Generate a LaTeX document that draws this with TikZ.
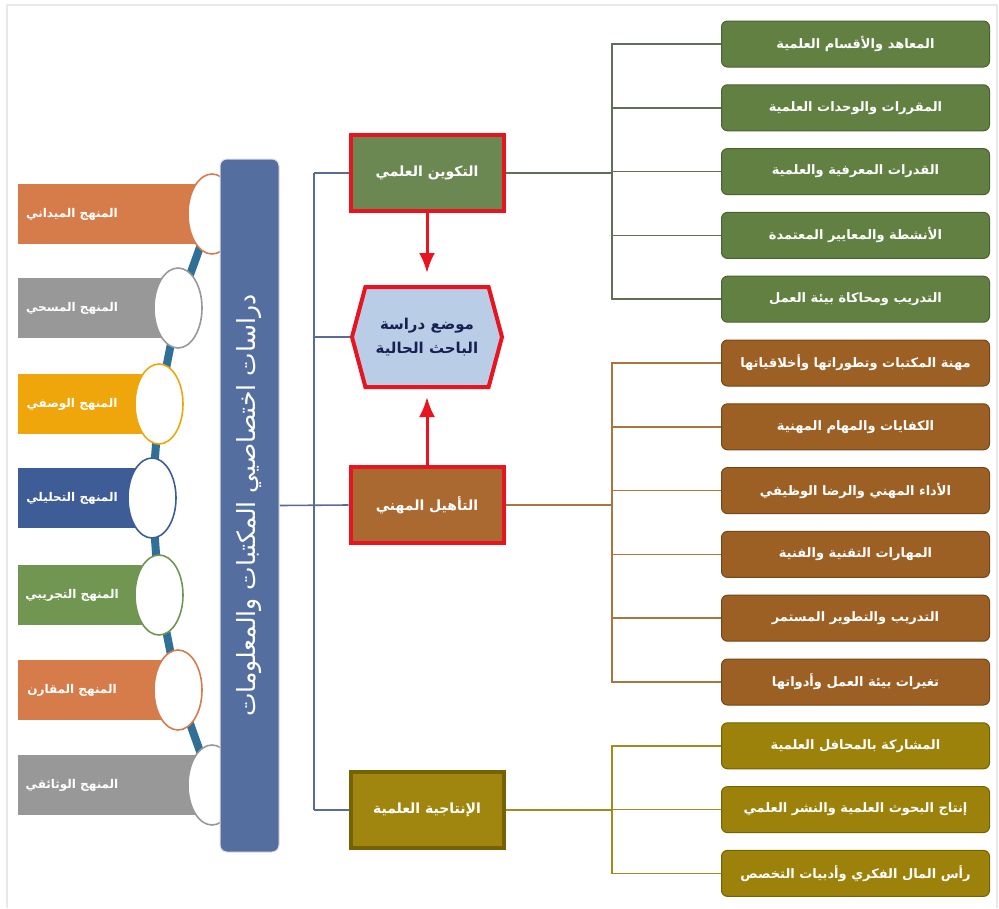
\documentclass[tikz,border=0pt]{standalone}
\usepackage{fontspec}
\usepackage{tikz}
\usetikzlibrary{positioning, arrows.meta, calc, shapes.geometric, shapes.symbols, backgrounds}
\TeXXeTstate=1
\newfontfamily\arabicfont[Script=Arabic]{DejaVu Sans}
\newcommand{\artxt}[1]{{\arabicfont\beginR #1\endR}}
\definecolor{barBlue}{RGB}{84,110,160}
\definecolor{chainBlue}{RGB}{48,112,150}
\definecolor{mOrange}{RGB}{214,124,74}
\definecolor{mGrey}{RGB}{152,152,152}
\definecolor{mGold}{RGB}{238,166,10}
\definecolor{mNavy}{RGB}{62,92,150}
\definecolor{mGreen}{RGB}{112,150,82}
\definecolor{arrowRed}{RGB}{232,20,32}
\definecolor{hexBlue}{RGB}{186,205,230}
\definecolor{hexText}{RGB}{22,32,82}
\definecolor{cGreen}{RGB}{108,136,82}
\definecolor{cBrown}{RGB}{170,105,48}
\definecolor{cOlive}{RGB}{160,134,14}
\definecolor{cOliveD}{RGB}{118,98,0}
\definecolor{itGreen}{RGB}{98,128,66}
\definecolor{itGreenD}{RGB}{72,98,48}
\definecolor{itBrown}{RGB}{156,96,36}
\definecolor{itBrownD}{RGB}{118,70,22}
\definecolor{itOlive}{RGB}{156,130,10}
\definecolor{itOliveD}{RGB}{118,98,0}
\definecolor{lnBlue}{RGB}{92,106,150}
\definecolor{lnGreen}{RGB}{96,112,86}
\definecolor{lnBrown}{RGB}{168,118,62}
\definecolor{lnOlive}{RGB}{160,140,30}
\tikzset{
  method box/.style={rectangle, anchor=west, minimum height=60pt},
  method text/.style={text=white, font=\fontsize{12}{14}\selectfont\bfseries},
  ring/.style={ellipse, fill=white, line width=1.6pt, minimum width=48pt, minimum height=80pt},
  study bar/.style={rectangle, rounded corners=7pt, fill=barBlue, draw=gray!25, line width=1pt, minimum width=59pt, minimum height=693pt},
  bar text/.style={rotate=90, text=white, font=\fontsize{25}{27}\selectfont},
  core box/.style={rectangle, line width=4pt, minimum width=153pt, minimum height=76pt, text=white, font=\fontsize{14}{16}\selectfont\bfseries},
  hex node/.style={signal, signal to=west and east, signal pointer angle=150, fill=hexBlue, draw=arrowRed, line width=4pt, minimum width=150pt, minimum height=100pt, align=center, text=hexText, font=\fontsize{15}{24}\selectfont\bfseries},
  item box/.style={rectangle, rounded corners=6pt, line width=1pt, minimum width=268pt, minimum height=46pt, text=white, font=\fontsize{13}{15}\selectfont\bfseries},
  green item/.style={item box, fill=itGreen, draw=itGreenD},
  brown item/.style={item box, fill=itBrown, draw=itBrownD},
  olive item/.style={item box, fill=itOlive, draw=itOliveD},
  elbow/.style={to path={|- (\tikztotarget)}},
  red arrow/.style={-{Latex[length=20pt,width=16pt]}, line width=3pt, draw=arrowRed},
  chain line/.style={line width=8pt, draw=chainBlue},
  frame line/.style={line width=2pt, draw=gray!18},
}

\begin{document}
\begin{tikzpicture}[x=1pt, y=-1pt]
\useasboundingbox (0,0) rectangle (999,908);
% Frame
\draw[frame line] (7,908) -- (7,5) -- (997,5) -- (997,908);
% Methods
\foreach \i/\y/\ex/\col in {1/214/212/mOrange, 2/308/178/mGrey, 3/404/159/mGold, 4/498/152/mNavy, 5/595/159/mGreen, 6/690/178/mOrange, 7/785/212/mGrey}{
  \node[method box, fill=\col, minimum width=\ex-18] (mb\i) at (18,\y) {};
  \node[ring, draw=\col] (e\i) at (\ex,\y) {};
}
% Study bar
\node[study bar] (bar) at (249.5,505.5) {};
\node[bar text] (bartitle) at (bar.center) {\artxt{دراسات اختصاصيي المكتبات والمعلومات}};
\foreach \i/\y/\txt in {1/214/المنهج الميداني, 2/308/المنهج المسحي, 3/404/المنهج الوصفي, 4/498/المنهج التحليلي, 5/595/المنهج التجريبي, 6/690/المنهج المقارن, 7/785/المنهج الوثائقي}{
  \node[method text] (mt\i) at (72,\y) {\artxt{\txt}};
}
% Core
\node[core box, fill=cGreen, draw=arrowRed] (sci) at (427,173) {\artxt{التكوين العلمي}};
\node[hex node] (pos) at (427,337) {\artxt{موضع دراسة}\\\artxt{الباحث الحالية}};
\node[core box, fill=cBrown, draw=arrowRed] (prof) at (427,505) {\artxt{التأهيل المهني}};
\node[core box, fill=cOlive, draw=cOliveD] (prod) at (427,810) {\artxt{الإنتاجية العلمية}};
% Items
\node[green item] (g1) at (855.5,44) {\artxt{المعاهد والأقسام العلمية}};
\node[green item, below=16.8pt of g1] (g2) {\artxt{المقررات والوحدات العلمية}};
\node[green item, below=16.8pt of g2] (g3) {\artxt{القدرات المعرفية والعلمية}};
\node[green item, below=16.8pt of g3] (g4) {\artxt{الأنشطة والمعايير المعتمدة}};
\node[green item, below=16.8pt of g4] (g5) {\artxt{التدريب ومحاكاة بيئة العمل}};
\node[brown item, below=16.8pt of g5] (b1) {\artxt{مهنة المكتبات وتطوراتها وأخلاقياتها}};
\node[brown item, below=16.8pt of b1] (b2) {\artxt{الكفايات والمهام المهنية}};
\node[brown item, below=16.8pt of b2] (b3) {\artxt{الأداء المهني والرضا الوظيفي}};
\node[brown item, below=16.8pt of b3] (b4) {\artxt{المهارات التقنية والفنية}};
\node[brown item, below=16.8pt of b4] (b5) {\artxt{التدريب والتطوير المستمر}};
\node[brown item, below=16.8pt of b5] (b6) {\artxt{تغيرات بيئة العمل وأدواتها}};
\node[olive item, below=16.8pt of b6] (o1) {\artxt{المشاركة بالمحافل العلمية}};
\node[olive item, below=16.8pt of o1] (o2) {\artxt{إنتاج البحوث العلمية والنشر العلمي}};
\node[olive item, below=16.8pt of o2] (o3) {\artxt{رأس المال الفكري وأدبيات التخصص}};
\coordinate (spine) at (314,0);
\coordinate (trunk) at (612,0);
% Paths
\begin{pgfonlayer}{background}
  \draw[chain line] (e1.center) -- (e2.center) -- (e3.center) -- (e4.center) -- (e5.center) -- (e6.center) -- (e7.center);
  \path[draw, line width=1.6pt, lnBlue]
    (sci.west) edge (sci.west -| spine)
    (pos.west) edge (pos.west -| spine)
    (prod.west) edge (prod.west -| spine)
    (sci.west -| spine) edge (prod.west -| spine)
    (bar.east) edge (prof.west);
  \path[draw, line width=1.6pt, lnGreen]
    (sci.east) edge (sci.east -| trunk)
    (sci.east -| trunk) edge[elbow] (g1.west)
    (sci.east -| trunk) edge[elbow] (g2.west)
    (sci.east -| trunk) edge[elbow] (g3.west)
    (sci.east -| trunk) edge[elbow] (g4.west)
    (sci.east -| trunk) edge[elbow] (g5.west);
  \path[draw, line width=1.6pt, lnBrown]
    (prof.east) edge (prof.east -| trunk)
    (prof.east -| trunk) edge[elbow] (b1.west)
    (prof.east -| trunk) edge[elbow] (b2.west)
    (prof.east -| trunk) edge[elbow] (b3.west)
    (prof.east -| trunk) edge[elbow] (b4.west)
    (prof.east -| trunk) edge[elbow] (b5.west)
    (prof.east -| trunk) edge[elbow] (b6.west);
  \path[draw, line width=1.6pt, lnOlive]
    (prod.east) edge (prod.east -| trunk)
    (prod.east -| trunk) edge[elbow] (o1.west)
    (prod.east -| trunk) edge[elbow] (o2.west)
    (prod.east -| trunk) edge[elbow] (o3.west);
\end{pgfonlayer}
\draw[red arrow, shorten >=12pt] (sci.south) -- (pos.north);
\draw[red arrow, shorten >=8pt] (prof.north) -- (pos.south);
\end{tikzpicture}
\end{document}
